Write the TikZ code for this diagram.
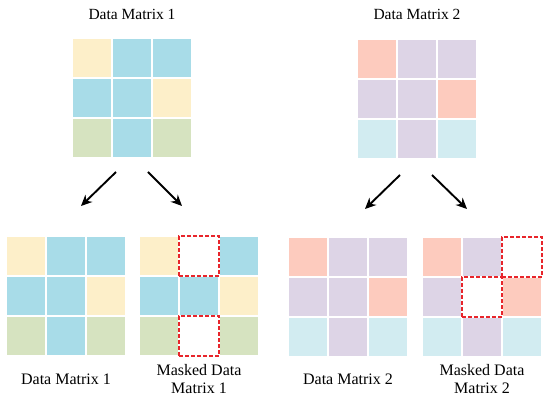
\documentclass[tikz,border=0pt]{standalone}
\usepackage{fontspec}
\setmainfont{Liberation Serif}
\usetikzlibrary{arrows.meta,positioning}

\definecolor{cellyel}{HTML}{FDEFC9}
\definecolor{cellblue}{HTML}{A8DCE8}
\definecolor{cellgreen}{HTML}{D6E3C0}
\definecolor{cellpink}{HTML}{FDCBBE}
\definecolor{celllav}{HTML}{DDD4E6}
\definecolor{cellcyan}{HTML}{D2ECF1}
\definecolor{maskred}{HTML}{E8252B}

\begin{document}
\begin{tikzpicture}[
    x=1pt, y=-1pt,
    % cell styles
    cell/.style={
        draw=white,
        line width=1.2pt,
        minimum size=40pt,
        inner sep=0pt
    },
    Y/.style={fill=cellyel},
    B/.style={fill=cellblue},
    G/.style={fill=cellgreen},
    P/.style={fill=cellpink},
    L/.style={fill=celllav},
    C/.style={fill=cellcyan},
    % masked cell
    W/.style={fill=white, draw=maskred, line width=1.4pt, dash pattern=on 4pt off 2pt},
    % label styles
    caption/.style={
        font=\fontsize{16}{18.5}\selectfont,
        align=center
    },
    splitarrow/.style={
        -{Stealth[length=11pt,width=10pt]},
        line width=1.9pt
    }
]
    \useasboundingbox (0,0) rectangle (550,401);

    % --- 1. top matrices ---
    \foreach \c [count=\i from 0] in {Y,B,B,B,B,Y,G,B,G}
        \node[cell,\c] (ta-\i) at ({92+40*mod(\i,3)},{58+40*int(\i/3)}) {};
    \foreach \c [count=\i from 0] in {P,L,L,L,L,P,C,L,C}
        \node[cell,\c] (tb-\i) at ({377+40*mod(\i,3)},{59+40*int(\i/3)}) {};

    \node[caption, font=\fontsize{15.5}{18}\selectfont] (titleA) at (132,14) {Data Matrix 1};
    \node[caption, font=\fontsize{15.5}{18}\selectfont] (titleB) at (417,14) {Data Matrix 2};

    % --- 2. bottom matrices ---
    % Data Matrix 1 / Masked Data Matrix 1
    \foreach \c [count=\i from 0] in {Y,B,B,B,B,Y,G,B,G}
        \node[cell,\c] (ba-\i) at ({26+40*mod(\i,3)},{256+40*int(\i/3)}) {};
    \foreach \c [count=\i from 0] in {Y,B,B,B,B,Y,G,B,G}
        \node[cell,\c] (ma-\i) at ({159+40*mod(\i,3)},{256+40*int(\i/3)}) {};
    \node[cell,W] at (ma-1) {};
    \node[cell,W] at (ma-7) {};

    % Data Matrix 2 / Masked Data Matrix 2
    \foreach \c [count=\i from 0] in {P,L,L,L,L,P,C,L,C}
        \node[cell,\c] (bb-\i) at ({308+40*mod(\i,3)},{257+40*int(\i/3)}) {};
    \foreach \c [count=\i from 0] in {P,L,L,L,L,P,C,L,C}
        \node[cell,\c] (mb-\i) at ({442+40*mod(\i,3)},{257+40*int(\i/3)}) {};
    \node[cell,W] at (mb-2) {};
    \node[cell,W] at (mb-4) {};

    % --- 3. captions ---
    \node[caption] (capA) at (ba-7 |- 0,379) {Data Matrix 1};
    \node[caption] (capMA) at (ma-7 |- 0,379) {Masked Data\\Matrix 1};
    \node[caption] (capB) at (bb-7 |- 0,379) {Data Matrix 2};
    \node[caption] (capMB) at (mb-7 |- 0,379) {Masked Data\\Matrix 2};

    % --- 4. arrows ---
    \coordinate (sa1) at (116,172);
    \coordinate (ea1) at (81,206);
    \coordinate (sa2) at (148,172);
    \coordinate (ea2) at (182,206);
    \coordinate (sb1) at (400,175);
    \coordinate (eb1) at (365,209);
    \coordinate (sb2) at (432,175);
    \coordinate (eb2) at (467,209);
    \draw[splitarrow] (sa1) -- (ea1);
    \draw[splitarrow] (sa2) -- (ea2);
    \draw[splitarrow] (sb1) -- (eb1);
    \draw[splitarrow] (sb2) -- (eb2);

\end{tikzpicture}
\end{document}
